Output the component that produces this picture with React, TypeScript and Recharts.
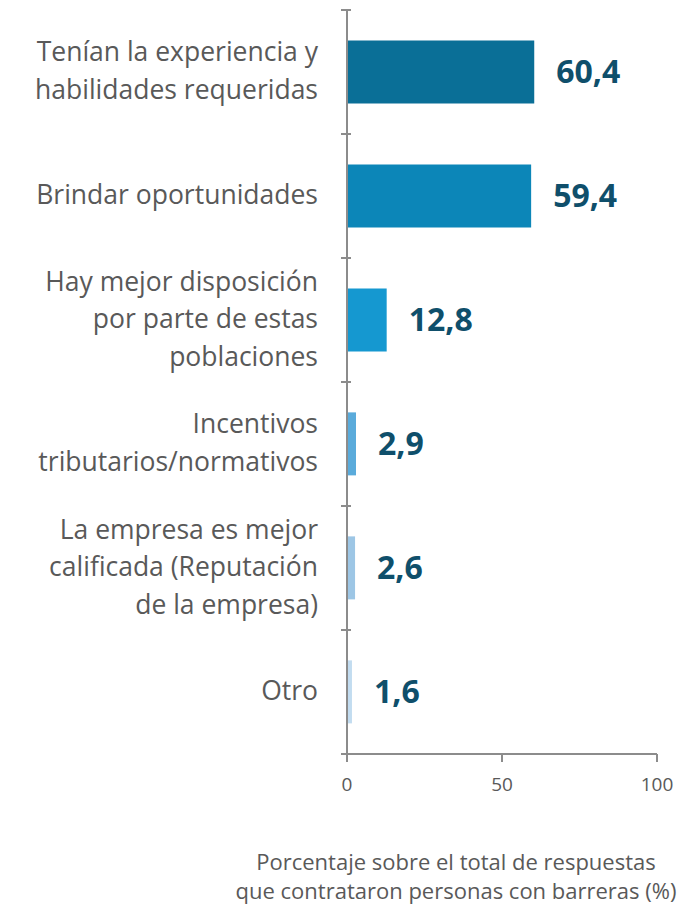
import { BarChart, Bar, XAxis, YAxis, Cell, LabelList, Label } from "recharts";

const categories = [
  "Tenían la experiencia y\nhabilidades requeridas",
  "Brindar oportunidades",
  "Hay mejor disposición\npor parte de estas\npoblaciones",
  "Incentivos\ntributarios/normativos",
  "La empresa es mejor\ncalificada (Reputación\nde la empresa)",
  "Otro",
];
const values = [60.4, 59.4, 12.8, 2.9, 2.6, 1.6];
const barColors = ["#0a6f97", "#0c86b8", "#1598d0", "#5aabdb", "#9dc6e5", "#c2dcf0"];
const xTicks = [0, 50, 100];
const axisTitle = ["Porcentaje sobre el total de respuestas", "que contrataron personas con barreras (%)"];

const data = categories.map((name, i) => ({ name, value: values[i] }));

const FONT = "'Open Sans', sans-serif";
const AXIS_COLOR = "#8c8c8c";
const W = 685;
const H = 906;
const TOP = 10;
const X_AXIS_H = 152;
const BAND = (H - TOP - X_AXIS_H) / categories.length;

function CategoryTick(props: any) {
  const { x, y, payload, index } = props;
  const lines: string[] = String(payload.value).split("\n");
  const lh = 37.5;
  const start = y - 2 - ((lines.length - 1) * lh) / 2;
  const ax = x + 12;
  const tx = x - 21;
  return (
    <g>
      <line x1={ax - 10} x2={ax} y1={y - BAND / 2} y2={y - BAND / 2} stroke={AXIS_COLOR} strokeWidth={2} />
      {index === categories.length - 1 && (
        <line x1={ax - 10} x2={ax} y1={y + BAND / 2} y2={y + BAND / 2} stroke={AXIS_COLOR} strokeWidth={2} />
      )}
      <text x={tx} y={start} textAnchor="end" dominantBaseline="central" fill="#595959" fontSize={26.5} fontFamily={FONT}>
        {lines.map((l, i) => (
          <tspan key={i} x={tx} y={start + i * lh}>
            {l}
          </tspan>
        ))}
      </text>
    </g>
  );
}

function AxisTitle(props: any) {
  const { viewBox } = props;
  const cx = 456;
  return (
    <text textAnchor="middle" fill="#595959" fontSize={22} fontFamily={FONT}>
      <tspan x={cx} y={viewBox.y + 116}>{axisTitle[0]}</tspan>
      <tspan x={cx} y={viewBox.y + 145}>{axisTitle[1]}</tspan>
    </text>
  );
}

export default function App() {
  return (
    <div style={{ position: "absolute", left: 0, top: 0, width: W, height: H, background: "#fff" }}>
      <BarChart
        width={W}
        height={H}
        data={data}
        layout="vertical"
        margin={{ top: TOP, right: 28, left: 0, bottom: 0 }}
        barCategoryGap="24.5%"
      >
        <XAxis
          type="number"
          domain={[0, 100]}
          ticks={xTicks}
          height={X_AXIS_H}
          tickSize={8}
          tickMargin={16}
          stroke={AXIS_COLOR}
          strokeWidth={2}
          tick={{ fill: "#595959", fontSize: 19, fontFamily: FONT }}
          interval={0}
        >
          <Label content={<AxisTitle />} />
        </XAxis>
        <YAxis
          type="category"
          dataKey="name"
          width={347}
          tickLine={false}
          stroke={AXIS_COLOR}
          strokeWidth={2}
          tick={<CategoryTick />}
          interval={0}
        />
        <Bar dataKey="value" isAnimationActive={false}>
          {data.map((_, i) => (
            <Cell key={i} fill={barColors[i]} />
          ))}
          <LabelList
            dataKey="value"
            position="right"
            offset={22}
            formatter={(v: any) => Number(v).toFixed(1).replace(".", ",")}
            style={{ fill: "#0f4f6b", fontSize: 32, fontWeight: 700, fontFamily: FONT }}
          />
        </Bar>
      </BarChart>
    </div>
  );
}
